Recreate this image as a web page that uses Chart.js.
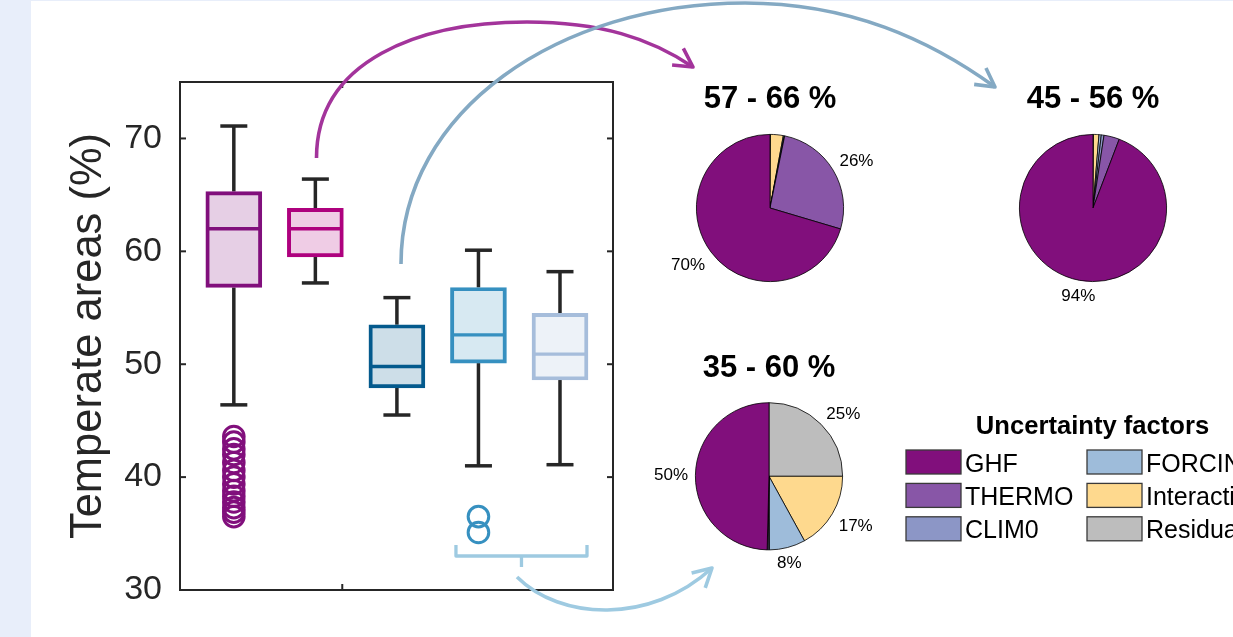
<!DOCTYPE html>
<html>
<head>
<meta charset="utf-8">
<script src="https://cdn.jsdelivr.net/npm/chart.js@4.4.1/dist/chart.umd.min.js"></script>
<style>
  html, body { margin: 0; padding: 0; }
  body { width: 1233px; height: 637px; background: #e8eefa; position: relative; overflow: hidden; }
  #panel { position: absolute; left: 31px; top: 1px; width: 1202px; height: 636px; background: #ffffff; }
  canvas { position: absolute; }
</style>
</head>
<body>
<div id="panel"></div>
<canvas id="main" width="1233" height="637" style="left:0;top:0;width:1233px;height:637px"></canvas>
<canvas id="pieA" width="260" height="260" style="left:640px;top:60px;width:260px;height:260px"></canvas>
<canvas id="pieB" width="260" height="260" style="left:963px;top:60px;width:260px;height:260px"></canvas>
<canvas id="pieC" width="260" height="260" style="left:639px;top:330px;width:260px;height:260px"></canvas>
<script>
const FONT = '"Liberation Sans", Arial, Helvetica, sans-serif';
Chart.defaults.font.family = FONT;
Chart.defaults.color = '#262626';

// ---- box plot statistics (temperate area, %) ----
const boxPositions   = [1, 2, 3, 4, 5];
const whiskerHigh    = [71.1, 66.4, 55.9, 60.1, 58.2];
const upperQuartile  = [65.3, 63.8, 53.5, 56.8, 54.5];
const medians        = [62.0, 62.0, 49.8, 52.6, 50.9];
const lowerQuartile  = [56.8, 59.5, 47.9, 50.1, 48.6];
const whiskerLow     = [46.4, 57.2, 45.5, 41.0, 41.1];
const outliersBox1   = [43.6, 43.1, 42.5, 42.0, 41.3, 40.6, 40.0, 39.4, 38.8, 38.3, 37.8, 37.3, 36.9, 36.5];
const outliersBox4   = [36.5, 35.1];
const boxEdgeColors  = ['#810f7c', '#ae017e', '#045a8d', '#3690c0', '#a6bddb'];
const yTickValues    = [30, 40, 50, 60, 70];
const xTickValues    = [2.33];

// ---- uncertainty decomposition (shares in %) ----
const factorNames  = ['GHF', 'THERMO', 'CLIM0', 'FORCING', 'Interaction', 'Residual'];
const factorColors = ['#810f7c', '#8856a7', '#8c96c6', '#9ebcda', '#fed98e', '#bdbdbd'];
const sharesA = [70.4, 26.4, 0.1, 0.2, 2.8, 0.1];
const sharesB = [94.2, 3.4, 0.6, 0.5, 1.2, 0.1];
const sharesC = [49.6, 0.2, 0.3, 7.9, 17.0, 25.0];
const pieTitles = ['57 - 66 %', '45 - 56 %', '35 - 60 %'];

function withAlpha(hex, a) {
  const n = parseInt(hex.slice(1), 16);
  return `rgba(${(n >> 16) & 255},${(n >> 8) & 255},${n & 255},${a})`;
}

function strokeLine(ctx, x1, y1, x2, y2) {
  ctx.beginPath(); ctx.moveTo(x1, y1); ctx.lineTo(x2, y2); ctx.stroke();
}

function drawArrow(ctx, segments, color, width) {
  ctx.save();
  ctx.strokeStyle = color; ctx.lineWidth = width; ctx.lineCap = 'butt'; ctx.lineJoin = 'round';
  ctx.beginPath();
  ctx.moveTo(segments[0][0][0], segments[0][0][1]);
  segments.forEach(s => ctx.bezierCurveTo(s[1][0], s[1][1], s[2][0], s[2][1], s[3][0], s[3][1]));
  ctx.stroke();
  const last = segments[segments.length - 1];
  const tip = last[3], prev = last[2];
  const ang = Math.atan2(tip[1] - prev[1], tip[0] - prev[0]);
  const L = 21, spread = 0.5;
  ctx.beginPath();
  ctx.moveTo(tip[0] - L * Math.cos(ang - spread), tip[1] - L * Math.sin(ang - spread));
  ctx.lineTo(tip[0], tip[1]);
  ctx.lineTo(tip[0] - L * Math.cos(ang + spread), tip[1] - L * Math.sin(ang + spread));
  ctx.stroke();
  ctx.restore();
}

// whiskers, medians, frame, inner ticks, bracket, arrows and legend
const boxDecor = {
  id: 'boxDecor',
  beforeDatasetsDraw(chart) {
    const { ctx, scales: { x, y } } = chart;
    ctx.save();
    ctx.strokeStyle = '#262626';
    ctx.lineWidth = 3.5;
    boxPositions.forEach((p, i) => {
      const px = x.getPixelForValue(p);
      strokeLine(ctx, px, y.getPixelForValue(upperQuartile[i]), px, y.getPixelForValue(whiskerHigh[i]));
      strokeLine(ctx, px, y.getPixelForValue(lowerQuartile[i]), px, y.getPixelForValue(whiskerLow[i]));
      strokeLine(ctx, px - 13.5, y.getPixelForValue(whiskerHigh[i]), px + 13.5, y.getPixelForValue(whiskerHigh[i]));
      strokeLine(ctx, px - 13.5, y.getPixelForValue(whiskerLow[i]), px + 13.5, y.getPixelForValue(whiskerLow[i]));
    });
    ctx.restore();
  },
  afterDatasetsDraw(chart) {
    const { ctx, scales: { x, y } } = chart;
    ctx.save();
    ctx.lineWidth = 3.3;
    boxPositions.forEach((p, i) => {
      const px = x.getPixelForValue(p);
      const py = y.getPixelForValue(medians[i]);
      ctx.strokeStyle = boxEdgeColors[i];
      strokeLine(ctx, px - 27, py, px + 27, py);
    });
    ctx.restore();
  },
  afterDraw(chart) {
    const { ctx, chartArea: a, scales: { x, y } } = chart;
    ctx.save();
    // top and right frame lines
    ctx.strokeStyle = '#262626';
    ctx.lineWidth = 2;
    strokeLine(ctx, a.left, a.top, a.right + 1, a.top);
    strokeLine(ctx, a.right, a.top, a.right, a.bottom + 1);
    // inward tick marks
    yTickValues.forEach(v => {
      const py = y.getPixelForValue(v);
      strokeLine(ctx, a.left, py, a.left + 6, py);
      strokeLine(ctx, a.right, py, a.right - 6, py);
    });
    xTickValues.forEach(v => {
      const px = x.getPixelForValue(v);
      strokeLine(ctx, px, a.top, px, a.top + 6);
      strokeLine(ctx, px, a.bottom, px, a.bottom - 6);
    });

    // bracket grouping the last two boxes
    const bl = x.getPixelForValue(4) - 22.5, br = x.getPixelForValue(5) + 27;
    const bm = (bl + br) / 2, by = a.bottom - 34;
    ctx.strokeStyle = '#9ecae1';
    ctx.lineWidth = 3.3;
    ctx.lineJoin = 'round';
    ctx.beginPath();
    ctx.moveTo(bl, by - 11); ctx.lineTo(bl, by); ctx.lineTo(br, by); ctx.lineTo(br, by - 11);
    ctx.stroke();
    strokeLine(ctx, bm, by, bm, by + 11);
    ctx.restore();

    // arrows linking boxes to the decomposition pies
    drawArrow(ctx, [[[316.5, 158], [316.5, 60], [420, 22], [527, 22]],
                    [[527, 22], [600, 22], [650, 38], [693, 67]]], '#a3349b', 3.6);
    drawArrow(ctx, [[[401, 264], [401, 110], [560, 3], [745, 3]],
                    [[745, 3], [850, 3], [930, 40], [995, 87]]], '#84a9c3', 3.6);
    drawArrow(ctx, [[[517, 577], [560, 620], [650, 625], [712, 568]]], '#9ecae1', 3.6);

    // legend of uncertainty factors
    ctx.save();
    ctx.fillStyle = '#000';
    ctx.font = 'bold 25.6px ' + FONT;
    ctx.textAlign = 'center';
    ctx.textBaseline = 'alphabetic';
    ctx.fillText('Uncertainty factors', 1092.5, 434);
    ctx.font = '25px ' + FONT;
    ctx.textAlign = 'left';
    const colX = [906, 1087];
    const rowY = [450, 483.4, 516.8];
    factorNames.forEach((name, i) => {
      const cx = colX[Math.floor(i / 3)], cy = rowY[i % 3];
      ctx.fillStyle = factorColors[i];
      ctx.fillRect(cx, cy, 55, 24);
      ctx.strokeStyle = '#3a3a3a';
      ctx.lineWidth = 1.3;
      ctx.strokeRect(cx, cy, 55, 24);
      ctx.fillStyle = '#000';
      ctx.fillText(name, cx + 59, cy + 21.5);
    });
    ctx.restore();
  }
};

new Chart(document.getElementById('main'), {
  type: 'bar',
  data: {
    datasets: [
      {
        type: 'bar',
        data: boxPositions.map((p, i) => ({ x: p, y: [lowerQuartile[i], upperQuartile[i]] })),
        backgroundColor: boxEdgeColors.map(c => withAlpha(c, 0.2)),
        borderColor: boxEdgeColors,
        borderWidth: 3.3,
        borderSkipped: false,
        barThickness: 56,
        grouped: false
      },
      {
        type: 'scatter',
        data: outliersBox1.map(v => ({ x: boxPositions[0], y: v })),
        pointStyle: 'circle',
        pointRadius: 10.3,
        pointBorderWidth: 3,
        pointBorderColor: boxEdgeColors[0],
        pointBackgroundColor: 'rgba(0,0,0,0)'
      },
      {
        type: 'scatter',
        data: outliersBox4.map(v => ({ x: boxPositions[3], y: v })),
        pointStyle: 'circle',
        pointRadius: 10.3,
        pointBorderWidth: 3,
        pointBorderColor: boxEdgeColors[3],
        pointBackgroundColor: 'rgba(0,0,0,0)'
      }
    ]
  },
  options: {
    responsive: false,
    animation: false,
    events: [],
    layout: { padding: { left: 0, right: 620, top: 82, bottom: 47 } },
    plugins: { legend: { display: false }, tooltip: { enabled: false } },
    scales: {
      x: {
        type: 'linear', min: 0.34, max: 5.65, offset: false,
        ticks: { display: false },
        grid: { display: false, drawTicks: false },
        border: { display: true, color: '#262626', width: 2 },
        afterFit: s => { s.height = 0; }
      },
      y: {
        type: 'linear', min: 30, max: 75,
        afterBuildTicks: s => { s.ticks = yTickValues.map(v => ({ value: v })); },
        ticks: { font: { size: 34 }, color: '#262626', padding: 18 },
        grid: { display: false, drawTicks: false },
        border: { display: true, color: '#262626', width: 2 },
        title: { display: true, text: 'Temperate areas (%)', color: '#262626', font: { size: 43.5 }, padding: { top: 63, bottom: 0 } },
        afterFit: s => { s.width = 180; }
      }
    }
  },
  plugins: [boxDecor]
});

// percentage labels outside the larger slices
const sliceLabels = {
  id: 'sliceLabels',
  afterDatasetsDraw(chart) {
    const { ctx } = chart;
    const meta = chart.getDatasetMeta(0);
    const values = chart.data.datasets[0].data;
    ctx.save();
    ctx.font = '17px ' + FONT;
    ctx.fillStyle = '#000';
    meta.data.forEach((arc, i) => {
      const v = values[i];
      if (v < 5) return;
      const { x, y, startAngle, endAngle, outerRadius } =
        arc.getProps(['x', 'y', 'startAngle', 'endAngle', 'outerRadius'], true);
      const ang = (startAngle + endAngle) / 2;
      const dx = Math.cos(ang), dy = Math.sin(ang);
      ctx.textAlign = dx > 0.5 ? 'left' : dx < -0.5 ? 'right' : 'center';
      ctx.textBaseline = dy < -0.3 ? 'alphabetic' : dy > 0.3 ? 'top' : 'middle';
      ctx.fillText(Math.round(v) + '%', x + dx * outerRadius * 1.1, y + dy * outerRadius * 1.1);
    });
    ctx.restore();
  }
};

function makePie(id, shares, title, titleTop, titleBottom, padBottom) {
  return new Chart(document.getElementById(id), {
    type: 'pie',
    data: {
      labels: factorNames.slice().reverse(),
      datasets: [{
        data: shares.slice().reverse(),
        backgroundColor: factorColors.slice().reverse(),
        borderColor: '#000',
        borderWidth: 0.8
      }]
    },
    options: {
      responsive: false,
      animation: false,
      events: [],
      layout: { padding: { top: 0, left: 0, right: 0, bottom: padBottom } },
      plugins: {
        legend: { display: false },
        tooltip: { enabled: false },
        title: {
          display: true, text: title, color: '#000',
          font: { size: 31, weight: 'bold' },
          padding: { top: titleTop, bottom: titleBottom }
        }
      }
    },
    plugins: [sliceLabels]
  });
}

makePie('pieA', sharesA, pieTitles[0], 20.4, 16.4, 38);
makePie('pieB', sharesB, pieTitles[1], 20.4, 16.4, 38);
makePie('pieC', sharesC, pieTitles[2], 19.4, 15.7, 39.7);
</script>
</body>
</html>
